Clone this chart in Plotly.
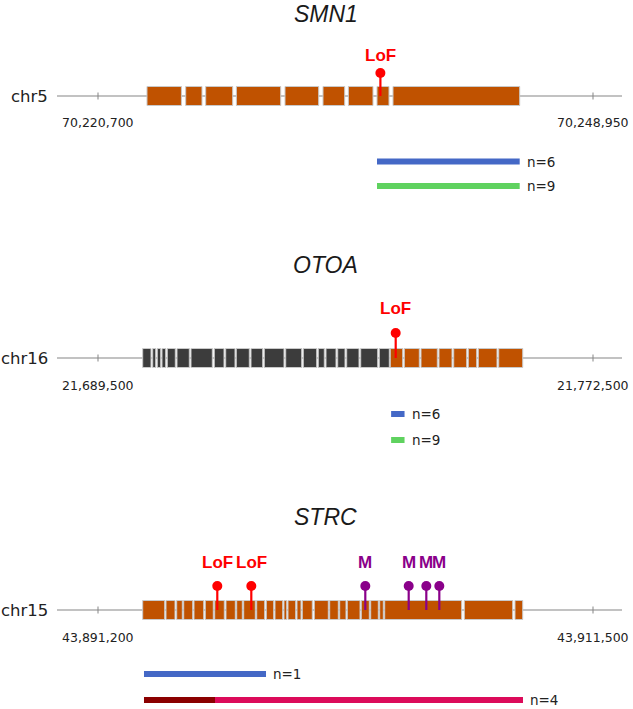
## Gene diagrams with variant lollipops and coverage tracks (SMN1, OTOA, STRC)
import plotly.graph_objects as go

## Data (genomic positions)
# SMN1, chr5
smn1_ticks = [70220700, 70248950]
smn1_exon_starts = [70223496, 70225705, 70226846, 70228598, 70231372, 70233541, 70234990, 70236623, 70237536]
smn1_exon_ends = [70225460, 70226635, 70228387, 70231127, 70233295, 70234779, 70236394, 70237307, 70244767]
smn1_dark_starts = []
smn1_dark_ends = []
smn1_var_pos = [70236817]
smn1_var_labels = ["LoF"]
smn1_bar_starts = [[70236623], [70236623]]
smn1_bar_ends = [[70244767], [70244767]]
smn1_bar_labels = ["n=6", "n=9"]

# OTOA, chr16
otoa_ticks = [21689500, 21772500]
otoa_dark_starts = [21696995, 21698672, 21699443, 21700232, 21701120, 21702747, 21705094, 21709001, 21710913,
                    21712690, 21715155, 21717385, 21720974, 21723925, 21726440, 21727731, 21729693, 21731202,
                    21733550, 21736669]
otoa_dark_ends = [21698387, 21699175, 21700014, 21700852, 21702462, 21704809, 21708666, 21710628, 21712472,
                  21714870, 21717117, 21720688, 21723656, 21726172, 21727446, 21729408, 21730917, 21733264,
                  21736400, 21738345]
otoa_exon_starts = [21738513, 21740860, 21743661, 21746679, 21749144, 21751592, 21753269, 21756689]
otoa_exon_ends = [21740592, 21743376, 21746394, 21748859, 21751323, 21753000, 21756404, 21760714]
otoa_var_pos = [21739418]
otoa_var_labels = ["LoF"]
otoa_bar_starts = [[21738650], [21738650]]
otoa_bar_ends = [[21740900], [21740900]]
otoa_bar_labels = ["n=6", "n=9"]

# STRC, chr15
strc_ticks = [43891200, 43911500]
strc_exon_starts = [43893033, 43893989, 43894427, 43894715, 43895137, 43895600, 43895986, 43896449, 43896888,
                    43897175, 43897708, 43898102, 43898459, 43898828, 43898992, 43899361, 43899578, 43900070,
                    43900702, 43901112, 43901424, 43901998, 43902383, 43902752, 43902957, 43906222, 43908301]
strc_exon_ends = [43893935, 43894358, 43894657, 43895084, 43895535, 43895928, 43896380, 43896831, 43897118,
                  43897651, 43898036, 43898405, 43898774, 43898939, 43899308, 43899525, 43899988, 43900645,
                  43901055, 43901370, 43901945, 43902326, 43902695, 43902900, 43906115, 43908207, 43908617]
strc_dark_starts = []
strc_dark_ends = []
strc_var_pos = [43896092, 43897487, 43902162, 43903942, 43904664, 43905197]
strc_var_labels = ["LoF", "LoF", "M", "M", "M", "M"]
strc_bar_starts = [[43893086], [43893086, 43895998]]
strc_bar_ends = [[43898090], [43895998, 43908629]]
strc_bar_labels = ["n=1", "n=4"]

## Layout (pixel positions on the 633x709 canvas)
W, H = 633, 709
TICK_PX = (98, 593)      # where the two coordinate ticks sit
LINE_PX = (57, 622)      # extent of the gene backbone
EXON_H = 19
BAR_H = 6

ORANGE = "#c05200"
DARK = "#3c3c3c"
var_colors = {"LoF": "#ff0000", "M": "#8a008a"}

genes = [
    dict(name="SMN1", chrom="chr5", ax="x", ticks=smn1_ticks,
         exons=(smn1_exon_starts, smn1_exon_ends), dark=(smn1_dark_starts, smn1_dark_ends),
         var=(smn1_var_pos, smn1_var_labels),
         bars=(smn1_bar_starts, smn1_bar_ends, smn1_bar_labels),
         bar_colors=[["#4468c6"], ["#5fd25f"]],
         y_title=13.5, y_lab=55, y_dot=73, y_line=96, y_tick=122, y_bars=[161.5, 186]),
    dict(name="OTOA", chrom="chr16", ax="x2", ticks=otoa_ticks,
         exons=(otoa_exon_starts, otoa_exon_ends), dark=(otoa_dark_starts, otoa_dark_ends),
         var=(otoa_var_pos, otoa_var_labels),
         bars=(otoa_bar_starts, otoa_bar_ends, otoa_bar_labels),
         bar_colors=[["#4468c6"], ["#5fd25f"]],
         y_title=265, y_lab=308, y_dot=333, y_line=358, y_tick=385, y_bars=[414, 440]),
    dict(name="STRC", chrom="chr15", ax="x3", ticks=strc_ticks,
         exons=(strc_exon_starts, strc_exon_ends), dark=(strc_dark_starts, strc_dark_ends),
         var=(strc_var_pos, strc_var_labels),
         bars=(strc_bar_starts, strc_bar_ends, strc_bar_labels),
         bar_colors=[["#4468c6"], ["#8b0000", "#dc0a5a"]],
         y_title=517, y_lab=562, y_dot=586, y_line=610, y_tick=637, y_bars=[674, 700]),
]

fig = go.Figure()
layout_axes = {}

for g in genes:
    t0, t1 = g["ticks"]
    scale = (t1 - t0) / (TICK_PX[1] - TICK_PX[0])
    to_g = lambda px, t0=t0, scale=scale: t0 + (px - TICK_PX[0]) * scale
    ax = g["ax"]
    key = "xaxis" if ax == "x" else "xaxis" + ax[1:]
    layout_axes[key] = dict(range=[to_g(0), to_g(W)], visible=False, domain=[0, 1], anchor="y",
                            **({} if ax == "x" else {"overlaying": "x"}))
    yl = g["y_line"]

    # backbone and coordinate ticks
    fig.add_shape(type="line", xref=ax, yref="y", x0=to_g(LINE_PX[0]), x1=to_g(LINE_PX[1]),
                  y0=yl, y1=yl, line=dict(color="#858585", width=1), layer="below")
    for t in g["ticks"]:
        fig.add_shape(type="line", xref=ax, yref="y", x0=t, x1=t, y0=yl - 3.5, y1=yl + 3.5,
                      line=dict(color="#858585", width=1), layer="below")
        fig.add_annotation(x=t, y=g["y_tick"], xref=ax, yref="y", text=f"{t:,}", showarrow=False,
                           font=dict(family="DejaVu Sans", size=12.5, color="#222"),
                           xanchor="center", yanchor="middle")

    # exons
    for (starts, ends), col in ((g["dark"], DARK), (g["exons"], ORANGE)):
        for s, e in zip(starts, ends):
            fig.add_shape(type="rect", xref=ax, yref="y", x0=s, x1=e,
                          y0=yl - EXON_H / 2, y1=yl + EXON_H / 2, fillcolor=col,
                          line=dict(color="#c9c9c9", width=1), layer="below")

    # variant lollipops
    pos, labs = g["var"]
    for p, lab in zip(pos, labs):
        c = var_colors[lab]
        fig.add_trace(go.Scatter(x=[p, p], y=[yl, g["y_dot"]], xaxis=ax, yaxis="y", mode="lines",
                                 line=dict(color=c, width=2.2), hoverinfo="skip", showlegend=False))
        fig.add_trace(go.Scatter(x=[p], y=[g["y_dot"]], xaxis=ax, yaxis="y", mode="markers",
                                 marker=dict(color=c, size=10), hoverinfo="skip", showlegend=False))
        fig.add_annotation(x=p, y=g["y_lab"], xref=ax, yref="y", text=f"<b>{lab}</b>", showarrow=False,
                           font=dict(family="Liberation Sans", size=17, color=c),
                           xanchor="center", yanchor="middle")

    # carrier tracks
    b_starts, b_ends, b_labels = g["bars"]
    for yb, ss, ee, cols, lab in zip(g["y_bars"], b_starts, b_ends, g["bar_colors"], b_labels):
        for s, e, col in zip(ss, ee, cols):
            fig.add_shape(type="rect", xref=ax, yref="y", x0=s, x1=e, y0=yb - BAR_H / 2, y1=yb + BAR_H / 2,
                          fillcolor=col, line=dict(width=0), layer="below")
        fig.add_annotation(x=ee[-1], y=yb, xref=ax, yref="y", text=lab, showarrow=False, xshift=5,
                           font=dict(family="DejaVu Sans", size=13.5, color="#222"),
                           xanchor="left", yanchor="middle")

    # gene name and chromosome
    fig.add_annotation(x=326 / W, y=g["y_title"], xref="paper", yref="y", text=f"<i>{g['name']}</i>",
                       showarrow=False, font=dict(family="Liberation Sans", size=23, color="#1a1a1a"),
                       xanchor="center", yanchor="middle")
    fig.add_annotation(x=50 / W, y=yl, xref="paper", yref="y", text=g["chrom"], showarrow=False,
                       font=dict(family="DejaVu Sans", size=16.5, color="#222"),
                       xanchor="right", yanchor="middle")

fig.update_layout(
    width=W, height=H,
    margin=dict(l=0, r=0, t=0, b=0),
    paper_bgcolor="white", plot_bgcolor="white",
    yaxis=dict(range=[H, 0], visible=False, domain=[0, 1]),
    showlegend=False,
    **layout_axes,
)

# drop the page's default body margin so the figure sits at the window's top-left corner
fig.write_html("out.html", config={"displayModeBar": False},
               post_script="document.body.style.margin='0px';")
